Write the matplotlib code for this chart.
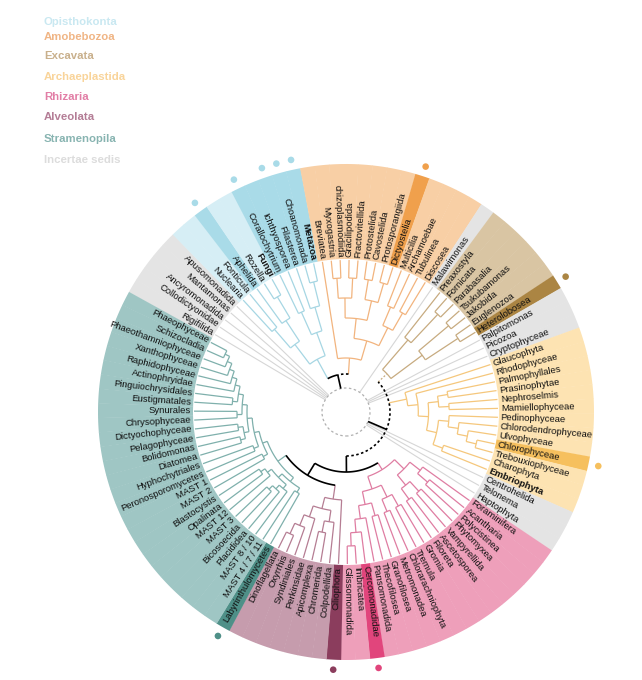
import numpy as np
import matplotlib.pyplot as plt
from matplotlib.patches import Wedge, Circle
from matplotlib.collections import LineCollection

plt.rcParams['font.family'] = ['Liberation Sans', 'DejaVu Sans']

# leaves clockwise from upper left, each supergroup as a nested topology
incertae_a = ["Rigifilida", "Collodictyonidae", "Ancyromonadida", "Mantamonas", "Apusomonadida"]
opisthokonta = ((("Nuclearia", "Fonticula"), ("Aphelida", ("Rozella", "Fungi"))),
                (("Corallochytrium", "Ichthyosporea"), ("Filasterea", ("Choanomonada", "Metazoa"))))
amoebozoa = ("Breviatea",
             (((("Myxogastria", "chizoplasmodiida"), ("Gracilipodida", "Fractovitellida")),
               (("Protostelida", "Cavostelida"), ("Protosporangiida", "Dictyostelia"))),
              (("Multicilia", "Archamoebae"), ("Tubulinea", "Discosea"))))
incertae_b = ["Malawimonas"]
excavata = (("Preaxostyla", ("Fornicata", "Parabasalia")),
            (("Tsukubamonas", "Jakobida"), ("Euglenozoa", "Heterolobosea")))
incertae_c = ["Palpitomonas", "Picozoa", "Cryptophyceae"]
archaeplastida = ("Glaucophyta",
                  ("Rhodophyceae",
                   ((("Palmophyllales", "Prasinophytae"), ("Nephroselmis", "Mamiellophyceae")),
                    (("Pedinophyceae", ("Chlorodendrophyceae", ("Ulvophyceae", ("Chlorophyceae", "Trebouxiophyceae")))),
                     ("Charophyta", "Embriophyta")))))
incertae_d = ["Centrohelida", "Telonema", "Haptophyta"]
rhizaria = ((("Foraminifera", ("Acantharia", "Polycistinea")),
             (("Phytomyxea", "Vampyrellida"), ("Ascetosporea", "Filoreta"))),
            ((("Gromia", "Tremula"), ("Chlorarachniophyta", "Metromonadea")),
             (("Granofilosea", "Thecofilosea"), ("Pansomonadida", ("Cercomonadidae", ("Imbricatea", "Glissomonadida"))))))
alveolata = ("Ciliophora", (("Colpodellida", ("Chromerida", "Apicomplexa")),
                            ("Perkinsidae", ("Syndiniales", ("Oxyrrhis", "Dinoflagellata")))))
stramenopila = ((("Labyrinthulomycetes", "MAST 4 / 7 / 11"),
                 (("MAST 8 / 10", ("Placididea", ("Bicosoecida", "MAST 3"))), ("MAST 12", ("Opalinata", "Blastocystis")))),
                (("MAST 2", "MAST 1"),
                 (("Peronosporomycetes", "Hyphochytriales"),
                  ((("Diatomea", "Bolidomonas"), ("Pelagophyceae", "Dictyochophyceae")),
                   (("Chrysophyceae", "Synurales"),
                    (("Eustigmatales", "Pinguiochrysidales"),
                     ("Actinophryidae", ("Raphidophyceae", ("Xanthophyceae",
                                                            ("Phaeothamniophyceae", ("Schizocladia", "Phaeophyceae")))))))))))

group_names = ["Incertae sedis", "Opisthokonta", "Amoebozoa", "Incertae sedis", "Excavata", "Incertae sedis",
               "Archaeplastida", "Incertae sedis", "Rhizaria", "Alveolata", "Stramenopila"]
group_trees = [incertae_a, opisthokonta, amoebozoa, incertae_b, excavata, incertae_c,
               archaeplastida, incertae_d, rhizaria, alveolata, stramenopila]

highlighted = ["Aphelida", "Corallochytrium", "Dictyostelia", "Heterolobosea", "Chlorophyceae",
               "Cercomonadidae", "Ciliophora", "Labyrinthulomycetes"]
dotted = ["Aphelida", "Corallochytrium", "Filasterea", "Choanomonada", "Metazoa", "Dictyostelia",
          "Heterolobosea", "Chlorophyceae", "Cercomonadidae", "Ciliophora", "Labyrinthulomycetes"]
holozoa_shade = ["Ichthyosporea", "Filasterea", "Choanomonada", "Metazoa"]
bold_labels = ["Fungi", "Metazoa", "Embriophyta"]

legend_labels = ["Opisthokonta", "Amobebozoa", "Excavata", "Archaeplastida",
                 "Rhizaria", "Alveolata", "Stramenopila", "Incertae sedis"]
legend_colors = ["#c9e8f1", "#f0b585", "#c9b08c", "#f9d49a", "#e27ea6", "#b47d96", "#88b4b1", "#dcdcdc"]

band_col = {"Opisthokonta": "#d6eef5", "Amoebozoa": "#f8cfa5", "Excavata": "#d9c5a3",
            "Archaeplastida": "#fde3b2", "Rhizaria": "#ee9fba", "Alveolata": "#c69cad",
            "Stramenopila": "#9fc6c4", "Incertae sedis": "#e4e4e4"}
hi_col = {"Opisthokonta": "#a9dbe8", "Amoebozoa": "#f0a04c", "Excavata": "#ab8543",
          "Archaeplastida": "#f6c05e", "Rhizaria": "#e1457c", "Alveolata": "#8b3d5d",
          "Stramenopila": "#4f9088", "Incertae sedis": "#cccccc"}
line_col = {"Opisthokonta": "#a6d6e3", "Amoebozoa": "#f2b47e", "Excavata": "#c7ab80",
            "Archaeplastida": "#f5c77c", "Rhizaria": "#df7da2", "Alveolata": "#b57d93",
            "Stramenopila": "#7fb0ac", "Incertae sedis": "#d6d6d6"}
root_r = {"Opisthokonta": 60, "Amoebozoa": 54, "Excavata": 56, "Archaeplastida": 62,
          "Rhizaria": 68, "Alveolata": 88, "Stramenopila": 84}

cx, cy = 346, 268
R_TIP, R_MAX, R_IN, R_OUT, R_DOT = 152, 134, 153, 248, 258


def leaves(t):
    if isinstance(t, str):
        return [t]
    out = []
    for c in t:
        out += leaves(c)
    return out


all_leaves = []
leaf_group = {}
for g, t in zip(group_names, group_trees):
    for lf in leaves(t):
        all_leaves.append(lf)
        leaf_group[lf] = g
step = 360 / len(all_leaves)
angle = {lf: 149.4 - i * step for i, lf in enumerate(all_leaves)}


def xy(r, a):
    t = np.radians(a)
    return cx + r * np.cos(t), cy + r * np.sin(t)


def radial(a, r1, r2):
    return [xy(r1, a), xy(r2, a)]


def arc(r, a1, a2):
    a = np.linspace(a1, a2, max(2, int(abs(a2 - a1) * 2)))
    x, y = xy(r, a)
    return list(zip(x, y))


def max_depth(node, d=0):
    if isinstance(node, str):
        return -1
    return max([d] + [max_depth(c, d + 1) for c in node])


def draw_tree(node, depth, r0, dr, segs):
    if isinstance(node, str):
        return angle[node], R_TIP
    r = r0 + depth * dr
    kids = [draw_tree(c, depth + 1, r0, dr, segs) for c in node]
    for a, rc in kids:
        segs.append(radial(a, r, rc))
    segs.append(arc(r, kids[0][0], kids[-1][0]))
    return (kids[0][0] + kids[-1][0]) / 2, r


fig = plt.figure(figsize=(6.42, 6.80), dpi=100)
ax = fig.add_axes([0, 0, 1, 1])
ax.set_xlim(0, 642)
ax.set_ylim(0, 680)
ax.axis('off')

# coloured bands behind the labels
for lf in all_leaves:
    g = leaf_group[lf]
    a = angle[lf]
    col = band_col[g]
    if lf in highlighted or lf in holozoa_shade:
        col = hi_col[g]
    ax.add_patch(Wedge((cx, cy), R_OUT, a - step / 2 - 0.05, a + step / 2 + 0.05,
                       width=R_OUT - R_IN, facecolor=col, edgecolor='none', zorder=1))
    if lf in dotted:
        ax.add_patch(Circle(xy(R_DOT, a), 3.3, facecolor=hi_col[g], edgecolor='none', zorder=2))

# subtrees
roots = {}
for g, t in zip(group_names, group_trees):
    segs = []
    if g == "Incertae sedis":
        for lf in t:
            segs.append(radial(angle[lf], 24, R_TIP))
        ax.add_collection(LineCollection(segs, colors=line_col[g], linewidths=0.8, zorder=2))
        continue
    dr = (R_MAX - root_r[g]) / max_depth(t)
    roots[g] = draw_tree(t, 0, root_r[g], dr, segs)
    ax.add_collection(LineCollection(segs, colors=line_col[g], linewidths=0.9, zorder=3))

# backbone
ax.add_patch(Circle((cx, cy), 24, fill=False, edgecolor='#b0b0b0', linestyle=(0, (2, 2)),
                    linewidth=0.9, zorder=3))
solid, dashed = [], []
a_op, a_am = roots["Opisthokonta"][0], roots["Amoebozoa"][0]
a_top = (a_op + a_am) / 2
solid.append(radial(a_top, 24, 38))
solid.append(arc(38, a_top, a_op))
dashed.append(arc(38, a_am, a_top))

a_st, a_al, a_rh = roots["Stramenopila"][0], roots["Alveolata"][0], roots["Rhizaria"][0]
a_sa = (a_st + a_al) / 2
a_sar = (a_sa + a_rh) / 2
solid.append(arc(74, a_st, a_al))
solid.append(radial(a_sa, 60, 74))
solid.append(arc(60, a_sa, a_rh))
solid.append(radial(a_sar, 44, 60))

a_ex, a_ar = roots["Excavata"][0], roots["Archaeplastida"][0]
a_dia = (a_ex + a_sar) / 2
dashed.append(arc(44, a_sar, a_ex))
solid.append(radial(a_dia, 24, 44))
ax.add_collection(LineCollection(solid, colors='black', linewidths=1.2, zorder=4))
ax.add_collection(LineCollection(dashed, colors='black', linewidths=1.2,
                                 linestyles=(0, (1.5, 1.5)), zorder=4))

links = [("Opisthokonta", 38), ("Amoebozoa", 38), ("Archaeplastida", 44),
         ("Rhizaria", 60), ("Alveolata", 74), ("Stramenopila", 74)]
for g, rp in links:
    ax.add_collection(LineCollection([radial(roots[g][0], rp, roots[g][1])],
                                     colors=line_col[g], linewidths=0.9, zorder=3))
ax.add_collection(LineCollection([radial(a_ex, 44, roots["Excavata"][1])], colors=line_col["Excavata"],
                                 linewidths=0.9, linestyles=(0, (1.5, 1.5)), zorder=3))

# leaf labels
for lf in all_leaves:
    a = angle[lf] % 360
    x, y = xy(155, a)
    if 90 < a < 270:
        rot, ha = a - 180, 'right'
    else:
        rot, ha = a, 'left'
    ax.text(x, y, lf, rotation=rot, rotation_mode='anchor', ha=ha, va='center',
            fontsize=6.8, color='#111111',
            fontweight='bold' if lf in bold_labels else 'normal', zorder=5)

# legend
legend_y = [22, 37, 56, 77, 97, 117, 139, 160]
for lab, col, yy in zip(legend_labels, legend_colors, legend_y):
    ax.text(44, 680 - yy, lab, fontsize=8.2, fontweight='bold', color=col, ha='left', va='center')

fig.savefig('out.png', dpi=100)
